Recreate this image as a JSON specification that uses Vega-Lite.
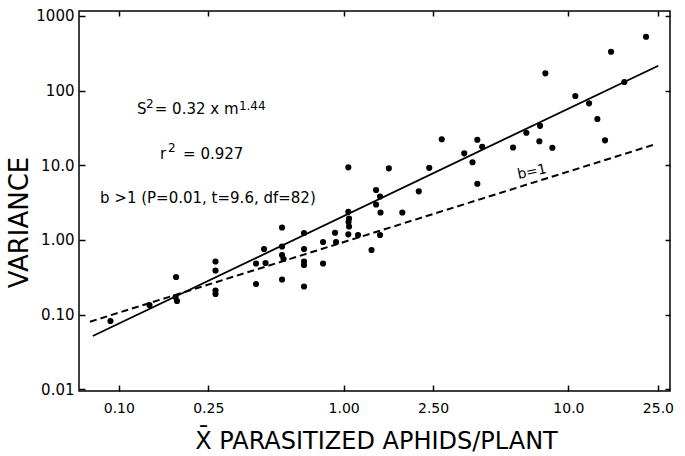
{
  "$schema": "https://vega.github.io/schema/vega-lite/v6.json",
  "width": 591,
  "height": 380,
  "autosize": {"type": "none"},
  "padding": {"left": 79, "top": 11, "right": 15, "bottom": 65},
  "background": "white",
  "config": {
    "view": {"stroke": "black", "strokeWidth": 1.5},
    "font": "DejaVu Sans",
    "axis": {
      "grid": false,
      "domain": false,
      "tickColor": "black",
      "tickWidth": 1.5,
      "labelColor": "black",
      "titleColor": "black",
      "labelFont": "DejaVu Sans",
      "titleFont": "DejaVu Sans",
      "titleFontWeight": "normal",
      "labelOverlap": false,
      "labelFlush": false
    }
  },
  "datasets": {
    "points": [
      {"m": 0.0918, "s2": 0.0821},
      {"m": 0.1369, "s2": 0.1344},
      {"m": 0.1797, "s2": 0.3187},
      {"m": 0.1788, "s2": 0.172},
      {"m": 0.1815, "s2": 0.1521},
      {"m": 0.2692, "s2": 0.5139},
      {"m": 0.2692, "s2": 0.3895},
      {"m": 0.2692, "s2": 0.2102},
      {"m": 0.2692, "s2": 0.1887},
      {"m": 0.4077, "s2": 0.2568},
      {"m": 0.4077, "s2": 0.4831},
      {"m": 0.4425, "s2": 0.7553},
      {"m": 0.4494, "s2": 0.4906},
      {"m": 0.5321, "s2": 1.466},
      {"m": 0.5321, "s2": 0.8157},
      {"m": 0.5321, "s2": 0.6279},
      {"m": 0.5403, "s2": 0.555},
      {"m": 0.5321, "s2": 0.295},
      {"m": 0.6665, "s2": 1.237},
      {"m": 0.6665, "s2": 0.7553},
      {"m": 0.6665, "s2": 0.5139},
      {"m": 0.6665, "s2": 0.4613},
      {"m": 0.6665, "s2": 0.2377},
      {"m": 0.8099, "s2": 0.9373},
      {"m": 0.8099, "s2": 0.4831},
      {"m": 0.9157, "s2": 1.248},
      {"m": 0.9251, "s2": 0.9373},
      {"m": 1.0493, "s2": 9.374},
      {"m": 1.0493, "s2": 2.385},
      {"m": 1.057, "s2": 1.934},
      {"m": 1.0515, "s2": 1.736},
      {"m": 1.057, "s2": 1.511},
      {"m": 1.0493, "s2": 1.188},
      {"m": 1.159, "s2": 1.163},
      {"m": 1.331, "s2": 0.7325},
      {"m": 1.394, "s2": 4.656},
      {"m": 1.452, "s2": 3.811},
      {"m": 1.394, "s2": 2.978},
      {"m": 1.459, "s2": 2.327},
      {"m": 1.452, "s2": 1.163},
      {"m": 1.589, "s2": 9.09},
      {"m": 1.824, "s2": 2.327},
      {"m": 2.159, "s2": 4.473},
      {"m": 2.403, "s2": 9.23},
      {"m": 2.732, "s2": 22.29},
      {"m": 3.44, "s2": 14.43},
      {"m": 3.745, "s2": 10.97},
      {"m": 3.933, "s2": 21.95},
      {"m": 4.135, "s2": 17.69},
      {"m": 3.933, "s2": 5.653},
      {"m": 5.67, "s2": 17.26},
      {"m": 6.497, "s2": 27.23},
      {"m": 7.477, "s2": 33.7},
      {"m": 7.423, "s2": 20.96},
      {"m": 8.481, "s2": 17.15},
      {"m": 7.894, "s2": 169.9},
      {"m": 10.73, "s2": 84.4},
      {"m": 12.35, "s2": 67.4},
      {"m": 13.45, "s2": 41.54},
      {"m": 14.55, "s2": 21.54},
      {"m": 15.47, "s2": 330.7},
      {"m": 17.73, "s2": 129.9},
      {"m": 22.14, "s2": 525.2}
    ],
    "fit": [{"m": 0.0766, "s2": 0.0517}, {"m": 25.1, "s2": 214.8}],
    "unity": [{"m": 0.0744, "s2": 0.0803}, {"m": 24.53, "s2": 19.22}],
    "notes": [
      {"m": 0.1205, "s2": 56.5, "label": "S"},
      {"m": 0.1445, "s2": 56.5, "label": "= 0.32 x m"},
      {"m": 0.1525, "s2": 14.13, "label": "r"},
      {"m": 0.1931, "s2": 14.13, "label": "= 0.927"},
      {"m": 0.0825, "s2": 3.64, "label": "b >1 (P=0.01, t=9.6, df=82)"}
    ],
    "sups": [
      {"m": 0.1321, "s2": 65.96, "label": "2"},
      {"m": 0.342, "s2": 62.0, "label": "1.44"},
      {"m": 0.1655, "s2": 17.0, "label": "2"}
    ],
    "b1": [{"m": 6.887, "s2": 8.11, "label": "b=1"}]
  },
  "layer": [
    {
      "data": {"name": "points"},
      "mark": {"type": "point", "filled": true, "shape": "circle", "size": 38, "color": "black", "opacity": 1},
      "encoding": {
        "x": {
          "field": "m", "type": "quantitative",
          "scale": {"type": "log", "domain": [0.0665, 28.3], "nice": false},
          "axis": {
            "orient": "bottom",
            "values": [0.1, 0.25, 1, 2.5, 10, 25],
            "labelExpr": "datum.value < 10 ? format(datum.value, '.2f') : format(datum.value, '.1f')",
            "tickSize": -6,
            "labelPadding": 16,
            "labelFontSize": 14,
            "title": "X̄ PARASITIZED APHIDS/PLANT",
            "titleFontSize": 24,
            "titleX": 297,
            "titleY": 50,
            "titleBaseline": "middle",
            "titleAlign": "center"
          }
        },
        "y": {
          "field": "s2", "type": "quantitative",
          "scale": {"type": "log", "domain": [0.0095, 1160], "nice": false},
          "axis": {
            "orient": "left",
            "values": [0.01, 0.1, 1, 10, 100, 1000],
            "labelExpr": "datum.value < 10 ? format(datum.value, '.2f') : datum.value < 100 ? format(datum.value, '.1f') : format(datum.value, 'd')",
            "tickSize": -6,
            "labelPadding": 11,
            "labelFontSize": 15,
            "title": "VARIANCE",
            "titleFontSize": 26,
            "titleX": -60,
            "titleY": 211,
            "titleAngle": 270,
            "titleBaseline": "middle",
            "titleAlign": "center"
          }
        }
      }
    },
    {
      "data": {"name": "fit"},
      "mark": {"type": "line", "color": "black", "strokeWidth": 1.8},
      "encoding": {
        "x": {"field": "m", "type": "quantitative", "axis": {"orient": "top", "values": [0.1, 0.25, 1, 2.5, 10, 25], "labels": false, "title": null, "tickSize": -5}},
        "y": {"field": "s2", "type": "quantitative", "axis": {"orient": "right", "values": [0.01, 0.1, 1, 10, 100, 1000], "labels": false, "title": null, "tickSize": -5}}
      }
    },
    {
      "data": {"name": "unity"},
      "mark": {"type": "line", "color": "black", "strokeWidth": 2, "strokeDash": [7, 4]},
      "encoding": {
        "x": {"field": "m", "type": "quantitative", "axis": null},
        "y": {"field": "s2", "type": "quantitative", "axis": null}
      }
    },
    {
      "data": {"name": "notes"},
      "mark": {"type": "text", "align": "left", "baseline": "middle", "fontSize": 15, "color": "black", "font": "DejaVu Sans"},
      "encoding": {
        "x": {"field": "m", "type": "quantitative", "axis": null},
        "y": {"field": "s2", "type": "quantitative", "axis": null},
        "text": {"field": "label"}
      }
    },
    {
      "data": {"name": "sups"},
      "mark": {"type": "text", "align": "left", "baseline": "middle", "fontSize": 12, "color": "black", "font": "DejaVu Sans"},
      "encoding": {
        "x": {"field": "m", "type": "quantitative", "axis": null},
        "y": {"field": "s2", "type": "quantitative", "axis": null},
        "text": {"field": "label"}
      }
    },
    {
      "data": {"name": "b1"},
      "mark": {"type": "text", "align": "center", "baseline": "middle", "fontSize": 14, "angle": 348, "color": "black", "font": "DejaVu Sans"},
      "encoding": {
        "x": {"field": "m", "type": "quantitative", "axis": null},
        "y": {"field": "s2", "type": "quantitative", "axis": null},
        "text": {"field": "label"}
      }
    }
  ],
  "resolve": {"axis": {"x": "independent", "y": "independent"}}
}
